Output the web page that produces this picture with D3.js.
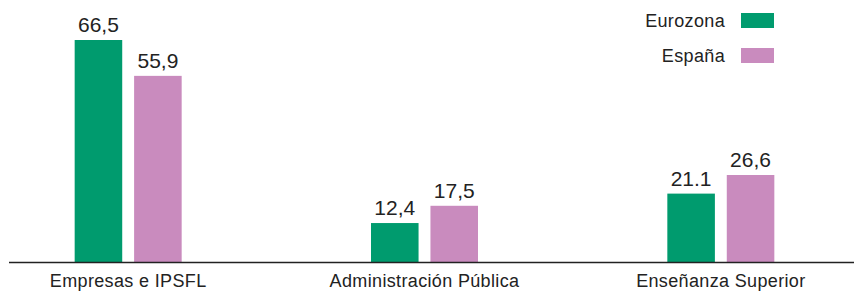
<!DOCTYPE html>
<html>
<head>
<meta charset="utf-8">
<script src="https://cdn.jsdelivr.net/npm/d3@7"></script>
<style>
  body { margin: 0; background: #fff; }
  text { font-family: "Liberation Sans", Arial, sans-serif; fill: #222; }
</style>
</head>
<body>
<div id="chart"></div>
<script>
// data
const categories = ["Empresas e IPSFL", "Administración Pública", "Enseñanza Superior"];
const series = ["Eurozona", "España"];
const eurozona = [66.5, 12.4, 21.1];
const espana = [55.9, 17.5, 26.6];
const eurozonaLabels = ["66,5", "12,4", "21.1"];
const espanaLabels = ["55,9", "17,5", "26,6"];
const colors = ["#009b6e", "#c98bbe"];

const width = 854, height = 291;
const baseY = 262;

const svg = d3.select("#chart")
  .append("svg")
  .attr("width", width)
  .attr("height", height);

const rows = categories.map(function (c, i) {
  return {
    cat: c,
    vals: [
      { s: series[0], v: eurozona[i], label: eurozonaLabels[i] },
      { s: series[1], v: espana[i], label: espanaLabels[i] }
    ]
  };
});

let x0 = d3.scaleBand().domain(categories).range([-20, 869]);
let x1 = d3.scaleBand().domain(series).range([-53.5, 53.5]).paddingInner(0.2);
// zero sits a little under the axis line in the original
let y = d3.scaleLinear().domain([0, 66.5]).range([265, 40]);
let color = d3.scaleOrdinal().domain(series).range(colors);

let group = svg.selectAll("g.cat")
  .data(rows)
  .enter()
  .append("g")
  .attr("class", "cat")
  .attr("transform", function (d) {
    return "translate(" + (x0(d.cat) + x0.bandwidth() / 2) + ",0)";
  });

group.selectAll("rect")
  .data(function (d) { return d.vals; })
  .enter()
  .append("rect")
  .attr("x", function (d) { return x1(d.s); })
  .attr("y", function (d) { return y(d.v); })
  .attr("width", x1.bandwidth())
  .attr("height", function (d) { return baseY - y(d.v); })
  .attr("fill", function (d) { return color(d.s); });

group.selectAll("text.val")
  .data(function (d) { return d.vals; })
  .enter()
  .append("text")
  .attr("class", "val")
  .attr("x", function (d) { return x1(d.s) + x1.bandwidth() / 2; })
  .attr("y", function (d) { return y(d.v) - 8; })
  .attr("text-anchor", "middle")
  .style("font-size", "21px")
  .text(function (d) { return d.label; });

group.append("text")
  .attr("x", 0)
  .attr("y", 287)
  .attr("text-anchor", "middle")
  .style("font-size", "18px")
  .style("letter-spacing", "0.35px")
  .text(function (d) { return d.cat; });

// baseline
svg.append("line")
  .attr("x1", 9)
  .attr("x2", width)
  .attr("y1", baseY + 0.5)
  .attr("y2", baseY + 0.5)
  .attr("stroke", "#222")
  .attr("stroke-width", 1.3);

// legend
let legend = svg.selectAll("g.legend")
  .data(series)
  .enter()
  .append("g")
  .attr("class", "legend")
  .attr("transform", function (d, i) { return "translate(0," + (13 + i * 35) + ")"; });

legend.append("rect")
  .attr("x", 741)
  .attr("y", 0)
  .attr("width", 33)
  .attr("height", 15)
  .attr("fill", function (d) { return color(d); });

legend.append("text")
  .attr("x", 725)
  .attr("y", 14)
  .attr("text-anchor", "end")
  .style("font-size", "18px")
  .style("letter-spacing", "0.35px")
  .text(function (d) { return d; });
</script>
</body>
</html>
